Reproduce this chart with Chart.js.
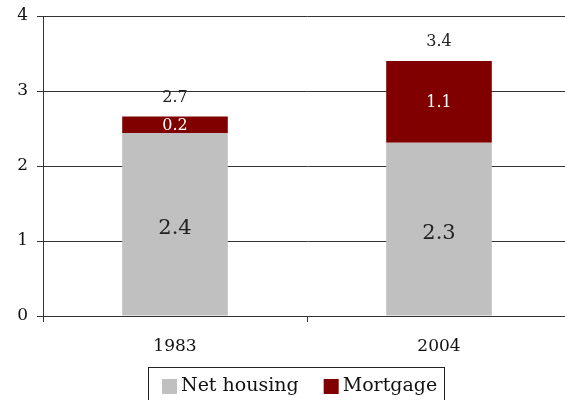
<!DOCTYPE html>
<html>
<head>
<meta charset="utf-8">
<script src="https://cdn.jsdelivr.net/npm/chart.js@4"></script>
<style>
  html, body { margin: 0; padding: 0; background: #fff; overflow: hidden; width: 565px; height: 400px; }
  canvas { display: block; }
</style>
</head>
<body>
<canvas id="chart" width="571" height="400"></canvas>
<script>
// datos
const years = ['1983', '2004'];
const netHousing = [2.44, 2.31];
const mortgage = [0.22, 1.09];
const netLabels = ['2.4', '2.3'];
const mortgageLabels = ['0.2', '1.1'];
const totalLabels = ['2.7', '3.4'];
const yTicks = [0, 1, 2, 3, 4];

const FONT = "'DejaVu Serif', 'Liberation Serif', serif";

// etiquetas dentro de las barras, totales encima y leyenda con recuadro
const barLabels = {
  id: 'barLabels',
  afterDatasetsDraw(chart) {
    const ctx = chart.ctx;
    ctx.save();
    ctx.textAlign = 'center';
    ctx.textBaseline = 'middle';
    const m0 = chart.getDatasetMeta(0);
    const m1 = chart.getDatasetMeta(1);
    m0.data.forEach((bar, i) => {
      ctx.font = '21px ' + FONT;
      ctx.fillStyle = '#222';
      ctx.fillText(netLabels[i], bar.x, (bar.y + bar.base) / 2 + 4);
    });
    m1.data.forEach((bar, i) => {
      ctx.font = '16px ' + FONT;
      ctx.fillStyle = '#fff';
      ctx.fillText(mortgageLabels[i], bar.x, (bar.y + bar.base) / 2 + 1);
      ctx.fillStyle = '#222';
      ctx.fillText(totalLabels[i], bar.x, bar.y - 19);
    });
    ctx.restore();
  },
  afterDraw(chart) {
    // leyenda dibujada a mano (el original tiene más separación y un marco)
    const ctx = chart.ctx;
    const area = chart.chartArea;
    const top = area.bottom + 51;
    const midY = top + 19;
    let x = 162;
    ctx.save();
    ctx.font = '19px ' + FONT;
    ctx.textBaseline = 'middle';
    ctx.textAlign = 'left';
    chart.data.datasets.forEach((ds, i) => {
      if (i > 0) x += 25;
      ctx.fillStyle = ds.backgroundColor;
      ctx.fillRect(x, midY - 7, 15, 15);
      x += 19;
      ctx.fillStyle = '#111';
      ctx.fillText(ds.label, x, midY);
      x += ctx.measureText(ds.label).width;
    });
    ctx.strokeStyle = '#222';
    ctx.lineWidth = 1;
    ctx.strokeRect(148.5, top + 0.5, Math.round(x + 7 - 148), 60);
    ctx.restore();
  }
};

new Chart(document.getElementById('chart').getContext('2d'), {
  type: 'bar',
  data: {
    labels: years,
    datasets: [
      { label: 'Net housing', data: netHousing, backgroundColor: '#C0C0C0', borderWidth: 0 },
      { label: 'Mortgage', data: mortgage, backgroundColor: '#800000', borderWidth: 0 }
    ]
  },
  options: {
    responsive: false,
    animation: false,
    devicePixelRatio: 1,
    categoryPercentage: 1,
    barPercentage: 0.4,
    layout: { padding: { top: 16, left: 0, right: 0, bottom: 37 } },
    plugins: {
      legend: { display: false },
      tooltip: { enabled: false }
    },
    scales: {
      x: {
        stacked: true,
        afterFit: (axis) => { axis.height = 47; },
        grid: { display: true, drawOnChartArea: false, drawTicks: true, tickLength: 6, color: '#333' },
        border: { display: true, color: '#333' },
        ticks: { color: '#111', padding: 14, font: { family: FONT, size: 17 } }
      },
      y: {
        stacked: true,
        min: 0,
        max: 4,
        afterBuildTicks: (axis) => { axis.ticks = yTicks.map(v => ({ value: v })); },
        afterFit: (axis) => { axis.width = 43; axis.paddingTop = 0; axis.paddingBottom = 0; },
        grid: { color: '#333', tickLength: 6 },
        border: { display: true, color: '#333' },
        ticks: { color: '#111', padding: 9, font: { family: FONT, size: 17 } }
      }
    }
  },
  plugins: [barLabels]
});
</script>
</body>
</html>
